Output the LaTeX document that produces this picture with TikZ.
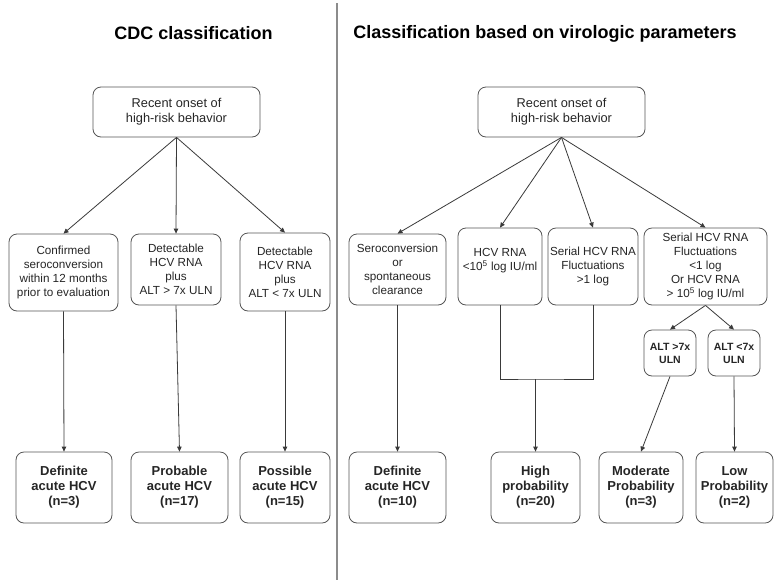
\documentclass[tikz,border=0pt]{standalone}
\usepackage{fontspec}
\setmainfont{Liberation Sans}
\usetikzlibrary{positioning,arrows.meta,calc}
\definecolor{linegray}{HTML}{3A3A3A}
\definecolor{framegray}{HTML}{555555}
\definecolor{rulegray}{HTML}{8C8C8C}
\tikzset{stage/.style={draw=framegray,line width=0.8pt,rounded corners=8pt,
        align=center,inner sep=1pt,text=black!85,
        font=\fontsize{11.7}{14}\selectfont,minimum width=#1},
        onset/.style={stage=167pt,minimum height=50pt,
            font=\fontsize{12.8}{15}\selectfont},
        outcome/.style={stage=#1,minimum height=71pt,
            font=\fontsize{13}{15}\selectfont\bfseries},
        altbox/.style={stage=52pt,minimum height=46pt,
            font=\fontsize{10.5}{13}\selectfont\bfseries},
        ttl/.style={font=\fontsize{18}{21}\selectfont\bfseries,text=black}
        }
\tikzstyle{arrow} = [draw=linegray,line width=0.8pt,-{Triangle[length=5pt,width=4.5pt]}]

\begin{document}
\begin{tikzpicture}[x=1pt,y=-1pt]
	\useasboundingbox[fill=white] (0,0) rectangle (776,584);
	\draw[rulegray,line width=1.5pt] (337,3) -- (337,580);

	\node[ttl] (ttlL) at (193.5,33) {CDC classification};
	\node[ttl] (ttlR) at (545,34) {Classification based on virologic parameters};

	% CDC classification
	\node[onset] (onsetL) at (176.5,112) {Recent onset of\\high-risk behavior};
	\node[stage=109pt,minimum height=77pt] (seroL) at (63.5,272.5) {Confirmed\\seroconversion\\within 12 months\\prior to evaluation};
	\node[stage=90pt,minimum height=71pt] (altHiL) at (176,269.5) {Detectable\\HCV RNA\\plus\\ALT > 7x ULN};
	\node[stage=90pt,minimum height=78pt] (altLoL) at (285,272) {Detectable\\HCV RNA\\plus\\ALT < 7x ULN};

	\node[outcome=96pt] (defL) at (64,487.5) {Definite\\acute HCV\\(n=3)};
	\node[outcome=97pt] (probL) at (179.5,487.5) {Probable\\acute HCV\\(n=17)};
	\node[outcome=90pt] (possL) at (285,487.5) {Possible\\acute HCV\\(n=15)};

	\foreach \n in {seroL,altHiL,altLoL}
		\draw[arrow] (onsetL.south) -- (\n.north);
	\draw[arrow] (seroL.south) -- (defL.north);
	\draw[arrow] (altHiL.south) -- (probL.north);
	\draw[arrow] (altLoL.south) -- (possL.north);

	% virologic parameters
	\node[onset] (onsetR) at (561.5,112) {Recent onset of\\high-risk behavior};
	\node[stage=97pt,minimum height=71pt] (seroR) at (397.5,269.5) {Seroconversion\\or\\spontaneous\\clearance};
	\node[stage=84pt,minimum height=77pt] (lowRNA) at (500,266.5) {HCV RNA\\<10\textsuperscript{5} log IU/ml\\\mbox{}};
	\node[stage=90pt,minimum height=77pt] (flucHi) at (593,266.5) {Serial HCV RNA\\Fluctuations\\>1 log};
	\node[stage=123pt,minimum height=77pt] (flucLo) at (705.5,266.5) {Serial HCV RNA\\Fluctuations\\<1 log\\Or HCV RNA\\> 10\textsuperscript{5} log IU/ml};
	\node[altbox] (altHi) at (670,353) {ALT >7x\\ULN};
	\node[altbox] (altLo) at (734,353) {ALT <7x\\ULN};

	\node[outcome=97pt] (defR) at (397.5,487.5) {Definite\\acute HCV\\(n=10)};
	\node[outcome=89pt] (highP) at (535.5,487.5) {High\\probability\\(n=20)};
	\node[outcome=84pt] (modP) at (641,487.5) {Moderate\\Probability\\(n=3)};
	\node[outcome=77pt] (lowP) at (734.5,487.5) {Low\\Probability\\(n=2)};

	\foreach \n in {seroR,lowRNA,flucHi,flucLo}
		\draw[arrow] (onsetR.south) -- (\n.north);
	\draw[arrow] (seroR.south) -- (defR.north);
	\coordinate (merge) at (highP.north |- 0,379);
	\draw[linegray,line width=0.8pt] (lowRNA.south) |- (merge) -| (flucHi.south);
	\draw[arrow] (merge) -- (highP.north);
	\draw[arrow] (flucLo.south) -- (altHi.north);
	\draw[arrow] (flucLo.south) -- (altLo.north);
	\draw[arrow] (altHi.south) -- (modP.north);
	\draw[arrow] (altLo.south) -- (lowP.north);
\end{tikzpicture}
\end{document}
